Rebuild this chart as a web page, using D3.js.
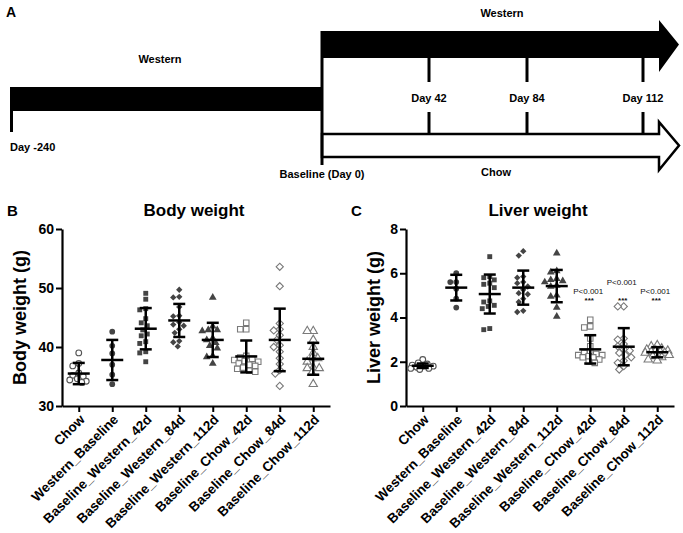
<!DOCTYPE html>
<html>
<head>
<meta charset="utf-8">
<script src="https://cdn.jsdelivr.net/npm/d3@7"></script>
<style>
  body { margin: 0; background: #fff; }
  svg text { font-family: "Liberation Sans", Arial, sans-serif; }
</style>
</head>
<body>
<svg id="fig" width="683" height="533"></svg>
<script>
// ---- data ----
const groups = ["Chow", "Western_Baseline", "Baseline_Western_42d", "Baseline_Western_84d",
  "Baseline_Western_112d", "Baseline_Chow_42d", "Baseline_Chow_84d", "Baseline_Chow_112d"];

const bodyValues = [
  [39.0, 37.2, 36.8, 35.6, 35.0, 34.6, 34.2, 34.0, 34.4, 35.2],
  [42.6, 40.2, 38.9, 37.0, 35.3, 33.7],
  [49.1, 48.1, 46.5, 46.3, 44.8, 44.1, 43.6, 42.9, 42.2, 41.9, 40.9, 40.6, 39.2, 39.0, 37.5],
  [49.7, 48.5, 48.4, 46.8, 45.3, 45.2, 44.2, 43.8, 43.6, 43.0, 42.4, 41.0, 40.8, 40.1],
  [48.4, 43.5, 42.9, 42.7, 42.9, 41.5, 41.2, 40.7, 40.2, 39.8, 38.5, 38.3, 37.2],
  [44.1, 43.0, 43.0, 38.5, 38.0, 37.8, 37.5, 37.2, 37.0, 36.8, 36.5, 36.3, 36.0, 35.8, 37.6, 38.2],
  [53.6, 50.3, 44.0, 43.0, 42.8, 42.0, 41.2, 40.3, 40.0, 39.2, 38.1, 37.1, 36.1, 35.5, 33.4],
  [42.7, 42.7, 41.2, 40.0, 39.0, 38.1, 38.1, 37.5, 36.5, 36.4, 36.4, 35.6, 33.7]
];
const bodyMeans = [35.5, 37.8, 43.1, 44.5, 41.2, 38.4, 41.2, 38.0];
const bodySD = [1.8, 3.4, 3.5, 2.8, 2.9, 2.7, 5.3, 2.7];
const bodyTicks = [30, 40, 50, 60];

const liverValues = [
  [2.1, 1.95, 1.9, 1.85, 1.8, 1.8, 1.75, 1.7, 1.7, 1.65],
  [6.0, 5.6, 5.6, 5.3, 4.85, 4.45],
  [6.75, 5.85, 5.8, 5.7, 5.55, 5.5, 5.35, 4.75, 4.7, 4.55, 4.5, 4.4, 3.5, 3.45],
  [7.0, 6.8, 5.85, 5.8, 5.6, 5.55, 5.4, 5.25, 5.1, 5.05, 4.85, 4.7, 4.3, 4.25],
  [6.9, 6.1, 6.05, 5.75, 5.7, 5.65, 5.6, 5.45, 5.4, 5.0, 4.95, 4.45, 4.05],
  [3.9, 3.6, 3.55, 3.05, 2.7, 2.45, 2.4, 2.35, 2.3, 2.25, 2.2, 2.1, 2.0, 1.95, 2.2, 2.3],
  [4.5, 4.5, 3.05, 3.0, 2.8, 2.7, 2.55, 2.5, 2.4, 2.3, 2.2, 2.05, 1.95, 1.8, 1.65],
  [2.75, 2.7, 2.6, 2.55, 2.5, 2.5, 2.45, 2.4, 2.4, 2.35, 2.3, 2.25, 2.2, 2.1, 2.05, 2.45]
];
const liverMeans = [1.82, 5.35, 5.06, 5.35, 5.42, 2.56, 2.68, 2.43];
const liverSD = [0.1, 0.58, 0.88, 0.77, 0.73, 0.64, 0.84, 0.23];
const liverTicks = [0, 2, 4, 6, 8];
const liverPLabels = ["", "", "", "", "", "P<0.001", "P<0.001", "P<0.001"];

const timelineDays = [-240, 0, 42, 84, 112];
const timelineLabels = ["Day -240", "Baseline (Day 0)", "Day 42", "Day 84", "Day 112"];

// ---- styles ----
const markerShapes = [d3.symbolCircle, d3.symbolCircle, d3.symbolSquare, d3.symbolSquare,
  d3.symbolTriangle, d3.symbolSquare, d3.symbolSquare, d3.symbolTriangle];
const markerRotate = [0, 0, 0, 45, 0, 0, 45, 0];
const markerSize = [26, 26, 24, 20, 26, 30, 26, 30];
const markerOpen = [true, false, false, false, false, true, true, true];
const pLift = [0, 0, 0, 0, 0, 0, 9, 0];

const svg = d3.select("#fig");

// ---- panel A: study timeline ----
const dayX = d3.scaleLinear().domain(timelineDays).range([10, 322, 429, 527, 643]);
const tipX = 679, headX = 659;
const A = svg.append("g");
const boldDV = g => g.attr("font-family", "'DejaVu Sans', Verdana, sans-serif")
  .attr("font-weight", "bold").attr("font-size", 11).attr("fill", "#000");

A.append("text").attr("x", 6).attr("y", 17).attr("font-weight", "bold")
  .attr("font-size", 14).text("A");

function arrow(y0, y1, h0, h1) {
  const p = d3.path();
  const yc = (y0 + y1) / 2;
  p.moveTo(dayX(0), y0);
  p.lineTo(headX, y0);
  p.lineTo(headX, h0);
  p.lineTo(tipX, yc);
  p.lineTo(headX, h1);
  p.lineTo(headX, y1);
  p.lineTo(dayX(0), y1);
  p.closePath();
  return p.toString();
}

// Western (pre-baseline) bar
A.append("rect").attr("x", dayX(-240)).attr("y", 87)
  .attr("width", dayX(0) - dayX(-240)).attr("height", 24).attr("fill", "#000");
// Western arrow
A.append("path").attr("d", arrow(31, 58, 20, 72)).attr("fill", "#000");
// Chow arrow (open)
A.append("path").attr("d", arrow(134, 157, 122, 170))
  .attr("fill", "#fff").attr("stroke", "#000").attr("stroke-width", 2.5)
  .attr("stroke-linejoin", "miter");

// vertical markers
A.append("line").attr("x1", dayX(0)).attr("x2", dayX(0)).attr("y1", 31).attr("y2", 165)
  .attr("stroke", "#000").attr("stroke-width", 3);
A.append("line").attr("x1", dayX(-240) + 1.5).attr("x2", dayX(-240) + 1.5)
  .attr("y1", 108).attr("y2", 132).attr("stroke", "#000").attr("stroke-width", 3);
timelineDays.slice(2).forEach(d => {
  A.append("line").attr("x1", dayX(d)).attr("x2", dayX(d)).attr("y1", 57).attr("y2", 82)
    .attr("stroke", "#000").attr("stroke-width", 3);
  A.append("line").attr("x1", dayX(d)).attr("x2", dayX(d)).attr("y1", 112).attr("y2", 135)
    .attr("stroke", "#000").attr("stroke-width", 3);
});

A.append("text").call(boldDV).attr("x", 502).attr("y", 17).attr("text-anchor", "middle").text("Western");
A.append("text").call(boldDV).attr("x", 160).attr("y", 63).attr("text-anchor", "middle").text("Western");
A.append("text").call(boldDV).attr("x", 496).attr("y", 176).attr("text-anchor", "middle").text("Chow");
A.append("text").call(boldDV).attr("x", dayX(-240)).attr("y", 151).text(timelineLabels[0]);
A.append("text").call(boldDV).attr("x", dayX(0)).attr("y", 178).attr("text-anchor", "middle").text(timelineLabels[1]);
timelineDays.slice(2).forEach((d, i) => {
  A.append("text").call(boldDV).attr("x", dayX(d)).attr("y", 102)
    .attr("text-anchor", "middle").text(timelineLabels[i + 2]);
});

// ---- scatter panels ----
// spread equal-ish values sideways, GraphPad style, within +-maxOff
function swarm(vals, y, minDist, maxOff) {
  const pts = vals.map(v => ({ v, y: y(v), dx: 0 })).sort((a, b) => a.y - b.y);
  const placed = [];
  pts.forEach(p => {
    let best = 0, bestD = -1;
    for (let k = 0; ; k++) {
      const off = (k % 2 ? -1 : 1) * Math.ceil(k / 2) * 1.5;
      if (Math.abs(off) > maxOff) break;
      const d = placed.length ? d3.min(placed, q => Math.hypot(q.dx - off, q.y - p.y)) : Infinity;
      if (d >= minDist) { best = off; break; }
      if (d > bestD) { bestD = d; best = off; }
    }
    p.dx = best;
    placed.push(p);
  });
  return pts;
}

function panel(opt) {
  const g = svg.append("g");
  const x = d3.scalePoint().domain(groups).range([opt.left, opt.right]).padding(0.5);
  const y = d3.scaleLinear().domain(opt.domain).range([406, 229]);

  g.append("text").attr("x", opt.left - 55).attr("y", 216).attr("font-weight", "bold")
    .attr("font-size", 15).text(opt.letter);
  g.append("text").attr("x", (opt.left + opt.right) / 2 - 2).attr("y", 216)
    .attr("text-anchor", "middle").attr("font-weight", "bold").attr("font-size", 17)
    .text(opt.title);
  g.append("text")
    .attr("transform", `translate(${opt.labelX},${(229 + 406) / 2}) rotate(-90)`)
    .attr("text-anchor", "middle").attr("dy", "0.35em")
    .attr("font-weight", "bold").attr("font-size", 18).text(opt.ylabel);

  const yAxis = g.append("g").attr("transform", `translate(${opt.left},0)`)
    .call(d3.axisLeft(y).tickValues(opt.ticks).tickSize(6).tickSizeOuter(0).tickPadding(2));
  const xAxis = g.append("g").attr("transform", "translate(0,406)")
    .call(d3.axisBottom(x).tickSize(6).tickSizeOuter(0));
  [yAxis, xAxis].forEach(a => {
    a.select(".domain").attr("stroke-width", 2.2);
    a.selectAll(".tick line").attr("stroke-width", 2);
    a.selectAll("text").attr("font-family", "'Liberation Sans', Arial, sans-serif")
      .attr("font-weight", "bold").attr("font-size", 14).attr("fill", "#000");
  });
  xAxis.selectAll("text")
    .attr("font-size", 13.5)
    .attr("text-anchor", "end").attr("x", 0).attr("y", 0).attr("dy", "0.35em")
    .attr("transform", "translate(3,11) rotate(-45)");

  groups.forEach((grp, i) => {
    const cx = x(grp);
    const pts = swarm(opt.values[i], y, 5.5, 12);
    const sym = d3.symbol().type(markerShapes[i]).size(markerSize[i]);
    g.append("g").selectAll("path").data(pts).join("path")
      .attr("d", sym)
      .attr("transform", d => `translate(${cx + d.dx},${d.y}) rotate(${markerRotate[i]})`)
      .attr("fill", markerOpen[i] ? "#fff" : "#444")
      .attr("stroke", markerOpen[i] ? (i === 0 ? "#555" : "#7a7a7a") : "none")
      .attr("stroke-width", 1.1);

    const m = opt.means[i], s = opt.sd[i];
    const eb = g.append("g").attr("stroke", "#000").attr("stroke-width", 2.5);
    eb.append("line").attr("x1", cx).attr("x2", cx).attr("y1", y(m + s)).attr("y2", y(m - s));
    eb.append("line").attr("x1", cx - 6).attr("x2", cx + 6).attr("y1", y(m + s)).attr("y2", y(m + s));
    eb.append("line").attr("x1", cx - 6).attr("x2", cx + 6).attr("y1", y(m - s)).attr("y2", y(m - s));
    eb.append("line").attr("x1", cx - 11).attr("x2", cx + 11).attr("y1", y(m)).attr("y2", y(m));

    if (opt.plabels && opt.plabels[i]) {
      const pg = g.append("g").attr("font-family", "'DejaVu Sans', Verdana, sans-serif")
        .attr("fill", "#111").attr("text-anchor", "middle");
      pg.append("text").attr("x", cx - 2).attr("y", 294 - pLift[i])
        .attr("font-size", 8).text(opt.plabels[i]);
      pg.append("text").attr("x", cx - 1).attr("y", 303)
        .attr("font-size", 8).attr("font-weight", "bold").text("***");
    }
  });
}

panel({ letter: "B", title: "Body weight", ylabel: "Body weight (g)", left: 62, right: 330,
  labelX: 20, domain: [30, 60], ticks: bodyTicks, values: bodyValues, means: bodyMeans, sd: bodySD });
panel({ letter: "C", title: "Liver weight", ylabel: "Liver weight (g)", left: 406, right: 674,
  labelX: 374, domain: [0, 8], ticks: liverTicks, values: liverValues, means: liverMeans, sd: liverSD,
  plabels: liverPLabels });
</script>
</body>
</html>
